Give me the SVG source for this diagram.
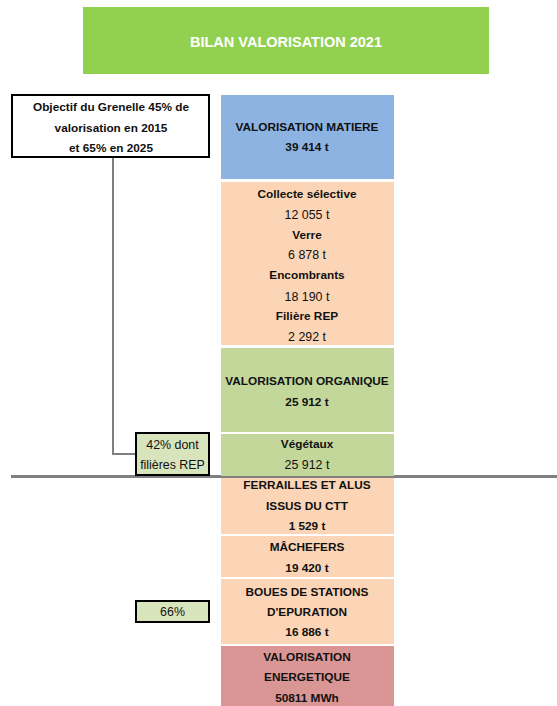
<svg xmlns="http://www.w3.org/2000/svg" width="557" height="706" viewBox="0 0 557 706">
<style>
text{font-family:"Liberation Sans",Arial,sans-serif;font-weight:bold;font-size:11.8px;fill:#111111;text-anchor:middle}
.t{fill:#ffffff;font-size:14.5px}
.n{font-weight:normal;font-size:12.4px}
.box{stroke:#000;stroke-width:2}
.con{fill:none;stroke:#808080;stroke-width:2}
</style>
<rect width="557" height="706" fill="#ffffff"/>
<g id="title">
<rect x="83" y="7" width="406" height="67" fill="#92d050"/>
<text class="t" x="286" y="47">BILAN VALORISATION 2021</text>
</g>
<g id="connectors">
<polyline class="con" points="113,158 113,454 135,454"/>
<line x1="11" y1="476.5" x2="557" y2="476.5" stroke="#808080" stroke-width="3"/>
</g>
<g id="objectif">
<rect class="box" x="12" y="95" width="197" height="62" fill="#ffffff"/>
<text x="111" y="111">Objectif du Grenelle 45% de</text>
<text x="111" y="132">valorisation en 2015</text>
<text x="111" y="152">et 65% en 2025</text>
</g>
<g id="matiere">
<rect x="221" y="95" width="173" height="84" fill="#8db3e2"/>
<text x="307" y="131">VALORISATION MATIERE</text>
<text x="307" y="151">39 414 t</text>
</g>
<g id="detail-matiere">
<rect x="221" y="182" width="173" height="163" fill="#fbd5b5"/>
<text x="307" y="198">Collecte sélective</text>
<text class="n" x="307" y="219">12 055 t</text>
<text x="307" y="239">Verre</text>
<text class="n" x="307" y="259">6 878 t</text>
<text x="307" y="279">Encombrants</text>
<text class="n" x="307" y="301">18 190 t</text>
<text x="307" y="320">Filière REP</text>
<text class="n" x="307" y="341">2 292 t</text>
</g>
<g id="organique">
<rect x="221" y="348" width="173" height="84" fill="#c4d79b"/>
<text x="307" y="385">VALORISATION ORGANIQUE</text>
<text x="307" y="406">25 912 t</text>
</g>
<g id="vegetaux">
<rect x="221" y="434" width="173" height="42" fill="#c4d79b"/>
<text x="307" y="448">Végétaux</text>
<text class="n" x="307" y="469">25 912 t</text>
</g>
<g id="pct42">
<rect class="box" x="136" y="433" width="73" height="42" fill="#d8e4bc"/>
<text class="n" x="172.5" y="449">42% dont</text>
<text class="n" x="172.5" y="469">filières REP</text>
</g>
<g id="ferrailles">
<rect x="221" y="478" width="173" height="56" fill="#fbd5b5"/>
<text x="307" y="489">FERRAILLES ET ALUS</text>
<text x="307" y="510">ISSUS DU CTT</text>
<text x="307" y="530">1 529 t</text>
</g>
<g id="machefers">
<rect x="221" y="536" width="173" height="41" fill="#fbd5b5"/>
<text x="307" y="551">MÂCHEFERS</text>
<text x="307" y="572">19 420 t</text>
</g>
<g id="boues">
<rect x="221" y="579" width="173" height="65" fill="#fbd5b5"/>
<text x="307" y="596">BOUES DE STATIONS</text>
<text x="307" y="616">D'EPURATION</text>
<text x="307" y="636">16 886 t</text>
</g>
<g id="pct66">
<rect class="box" x="136" y="601" width="73" height="21" fill="#d8e4bc"/>
<text class="n" x="172.5" y="616">66%</text>
</g>
<g id="energetique">
<rect x="221" y="646" width="173" height="60" fill="#da9694"/>
<text x="307" y="661">VALORISATION</text>
<text x="307" y="681">ENERGETIQUE</text>
<text x="307" y="702">50811 MWh</text>
</g>
</svg>
